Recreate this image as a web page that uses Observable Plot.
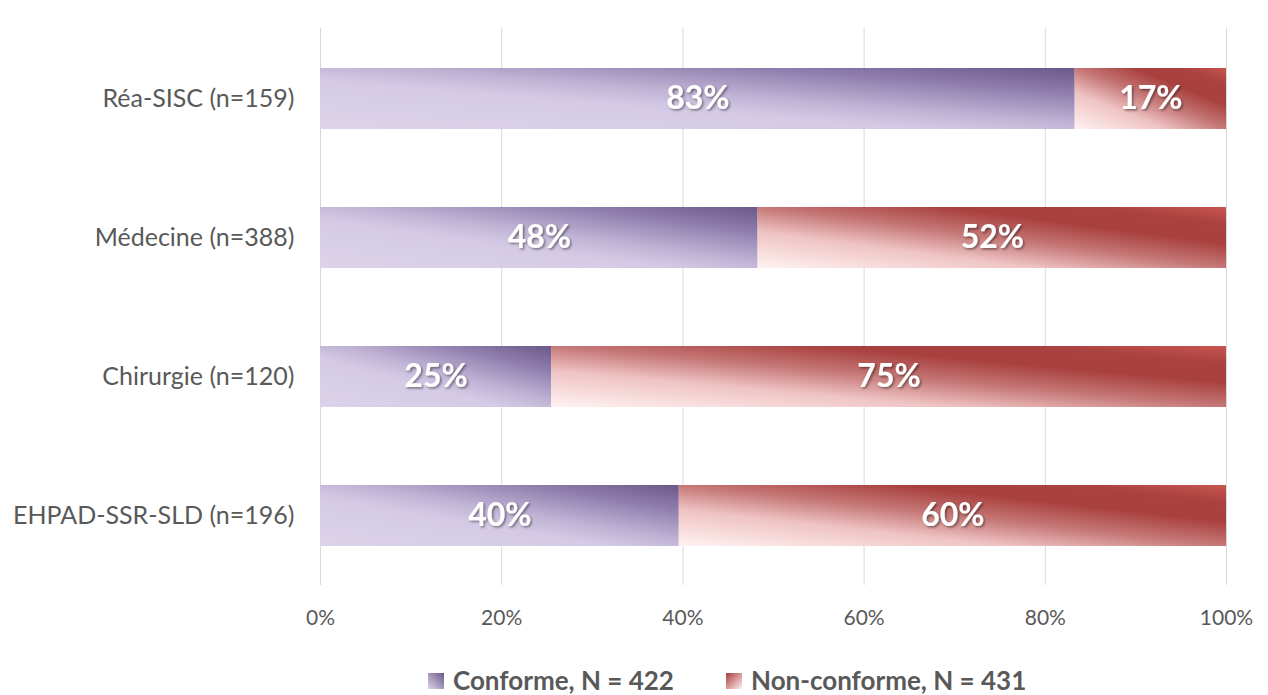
<!DOCTYPE html>
<html><head><meta charset="utf-8">
<script src="https://cdn.jsdelivr.net/npm/d3@7"></script>
<script src="https://cdn.jsdelivr.net/npm/@observablehq/plot@0.6"></script>
<style>
body{margin:0;background:#fff;font-family:Lato,"Open Sans",sans-serif;}
#legend{position:relative;height:55px;}
.item{position:absolute;top:28px;height:25px;line-height:25px;display:flex;align-items:center;font-weight:bold;font-size:26px;color:#595959;}
.sw{width:16px;height:16px;margin-right:9px;}
</style>
</head><body>
<div id="chart"></div>
<div id="legend"></div>
<script>
const categories = ["Réa-SISC (n=159)","Médecine (n=388)","Chirurgie (n=120)","EHPAD-SSR-SLD (n=196)"];
const conforme = [83.3,48.3,25.5,39.6];
const nonConforme = [16.7,51.7,74.5,60.4];
const conformeLabels = ["83%","48%","25%","40%"];
const nonConformeLabels = ["17%","52%","75%","60%"];
const xTicks = [0,20,40,60,80,100];
const seriesNames = ["Conforme, N = 422","Non-conforme, N = 431"];

const rowsC = categories.map((c,i)=>({cat:c, x1:0, x2:conforme[i], label:conformeLabels[i]}));
const rowsN = categories.map((c,i)=>({cat:c, x1:conforme[i], x2:conforme[i]+nonConforme[i], label:nonConformeLabels[i]}));

const chart = Plot.plot({
  width:1268, height:640,
  marginLeft:320, marginRight:42, marginTop:28, marginBottom:55,
  style:{fontFamily:"Lato, 'Open Sans', sans-serif", color:"#595959", background:"#fff"},
  x:{domain:[0,100]},
  y:{domain:categories, paddingInner:0.562, paddingOuter:0.281},
  marks:[
    Plot.gridX(xTicks,{stroke:"#d9d9d9", strokeOpacity:1, strokeWidth:1}),
    Plot.axisX(xTicks,{tickSize:0, tickPadding:25, fontSize:21, tickFormat:d=>d+"%", label:null, fill:"#595959"}),
    Plot.axisY({tickSize:0, tickPadding:26, fontSize:25, label:null, fill:"#595959"}),
    Plot.barX(rowsC,{x1:"x1", x2:"x2", y:"cat", fill:"url(#gradC)"}),
    Plot.barX(rowsN,{x1:"x1", x2:"x2", y:"cat", fill:"url(#gradN)"}),
    Plot.text(rowsC.concat(rowsN),{x:d=>(d.x1+d.x2)/2, y:"cat", text:"label", fill:"white", fontSize:32, fontWeight:"bold"})
  ]
});

const svg = d3.select(chart);
const defs = svg.insert("defs",":first-child");
function grad(id, stops){
  const g = defs.append("linearGradient").attr("id",id).attr("x1",0).attr("y1",1).attr("x2",1).attr("y2",0);
  stops.forEach(([o,c])=>g.append("stop").attr("offset",o).attr("stop-color",c));
}
grad("gradC",[[0,"#dcd3ea"],[0.4,"#d4cae5"],[0.55,"#bfb2d4"],[0.8,"#8d7cac"],[1,"#6a5888"]]);
grad("gradN",[[0,"#fff2f2"],[0.3,"#efc3c3"],[0.5,"#c57877"],[0.7,"#a8403e"],[0.85,"#a84140"],[1,"#c9554f"]]);
const f = defs.append("filter").attr("id","shadow").attr("x","-20%").attr("y","-20%").attr("width","140%").attr("height","140%");
f.append("feDropShadow").attr("dx",1.5).attr("dy",1.5).attr("stdDeviation",1.2).attr("flood-color","#000").attr("flood-opacity",0.45);
svg.selectAll("g[aria-label='text'] text").attr("filter","url(#shadow)");

document.getElementById("chart").appendChild(chart);

// legend
const lsvgGrad = `<svg width="0" height="0" style="position:absolute"><defs>
<linearGradient id="lgC" x1="0" y1="1" x2="1" y2="0"><stop offset="0" stop-color="#ddd4ea"/><stop offset="1" stop-color="#6a5888"/></linearGradient>
<linearGradient id="lgN" x1="1" y1="1" x2="0" y2="0"><stop offset="0" stop-color="#fff0f0"/><stop offset="1" stop-color="#a83e3c"/></linearGradient>
</defs></svg>`;
const leg = document.getElementById("legend");
leg.innerHTML = lsvgGrad;
const lefts = [428, 726];
const gids = ["lgC","lgN"];
seriesNames.forEach((n,i)=>{
  const it = document.createElement("div");
  it.className="item";
  it.style.left = lefts[i]+"px";
  it.innerHTML = `<svg class="sw" width="16" height="16"><rect width="16" height="16" fill="url(#${gids[i]})"/></svg><span>${n}</span>`;
  leg.appendChild(it);
});
</script>
</body></html>
